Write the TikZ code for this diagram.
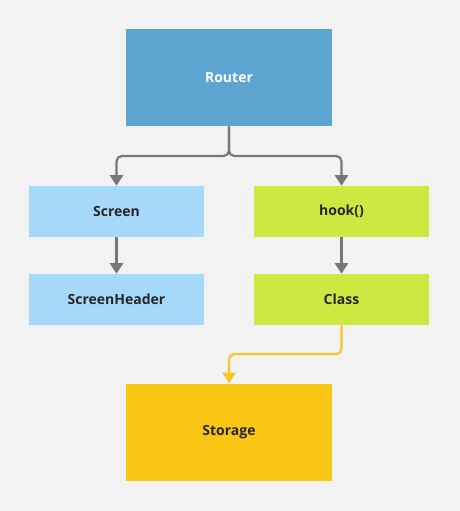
\documentclass[tikz,border=0pt]{standalone}
\usepackage{fontspec}
\setmainfont{Open Sans}
\usetikzlibrary{arrows.meta}
\definecolor{bg}{HTML}{F2F2F2}
\definecolor{routerc}{HTML}{5DA5D1}
\definecolor{screenc}{HTML}{A6D8FA}
\definecolor{hookc}{HTML}{CEE741}
\definecolor{storec}{HTML}{F9C613}
\definecolor{grayline}{HTML}{777777}
\definecolor{yline}{HTML}{F7C52A}
\tikzset{
  box/.style={draw=none, minimum width=175*0.75pt, minimum height=51*0.75pt, inner sep=0pt, font=\bfseries\fontsize{10.5}{12}\selectfont, text=black!85},
  bigbox/.style={box, minimum width=206*0.75pt, minimum height=97*0.75pt},
  conn/.style={draw=grayline, line width=1.6pt, rounded corners=4pt, -{Triangle[length=8pt,width=10pt]}},
  yconn/.style={conn, draw=yline, -{Triangle[length=8pt,width=10pt,fill=yline]}},
}
\begin{document}
\begin{tikzpicture}[x=0.75pt,y=-0.75pt]
\fill[bg] (0,0) rectangle (460,511);
\useasboundingbox (0,0) rectangle (460,511);
\node[bigbox, fill=routerc, text=white] (router) at (229,77.5) {Router};
\node[box, fill=screenc] (screen) at (116.5,211.5) {Screen};
\node[box, fill=hookc] (hook) at (341.5,211.5) {hook()};
\node[box, fill=screenc] (sheader) at (116.5,299.5) {ScreenHeader};
\node[box, fill=hookc] (class) at (341.5,299.5) {Class};
\node[bigbox, fill=storec] (storage) at (229,432) {Storage};
\coordinate (j) at (229,156);
\draw[conn] (router.south) -- (j) -| (screen.north);
\draw[conn] (router.south) -- (j) -| (hook.north);
\draw[conn] (screen.south) -- (sheader.north);
\draw[conn] (hook.south) -- (class.north);
\coordinate (k) at (341.5,354);
\draw[yconn] (class.south) -- (k) -| (storage.north);
\end{tikzpicture}
\end{document}
